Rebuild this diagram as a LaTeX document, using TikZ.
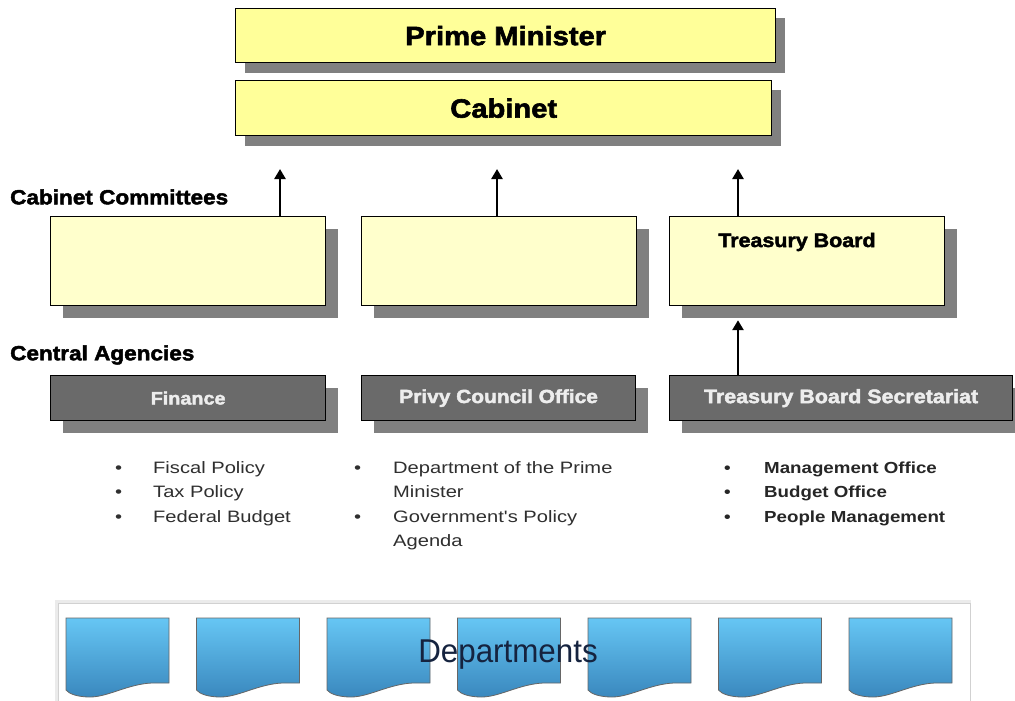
\documentclass[tikz,border=0pt]{standalone}
\usepackage{fontspec}
\setmainfont{Liberation Sans}
\newfontfamily\heavy{Liberation Sans}[FakeStretch=1.1, FakeBold=2.2, BoldFeatures={FakeBold=2.2}]
\newfontfamily\bodyfont{Liberation Sans}[FakeStretch=1.22]
\newfontfamily\semibody{Liberation Sans}[FakeStretch=1.17]
\newfontfamily\depfont{Liberation Sans}[FakeStretch=0.95]
\usetikzlibrary{arrows.meta,calc}
\definecolor{pmyellow}{HTML}{FFFF99}
\definecolor{ccyellow}{HTML}{FFFFCC}
\definecolor{shadowgray}{HTML}{808080}
\definecolor{agencygray}{HTML}{6A6A6A}
\definecolor{agencytext}{HTML}{EDEDED}
\definecolor{bullettext}{HTML}{2F2F2F}
\definecolor{dbluetop}{HTML}{66C6F4}
\definecolor{dbluebot}{HTML}{3A88BE}
\definecolor{deptext}{HTML}{15233F}
\tikzset{
  topbox/.style={draw=black, line width=1.4pt, fill=pmyellow, inner sep=0pt, anchor=north west,
    font=\heavy\bfseries\fontsize{26.5}{30}\selectfont},
  ccbox/.style={draw=black, line width=1.2pt, fill=ccyellow, inner sep=0pt, anchor=north west,
    minimum width=275pt, minimum height=89pt},
  agbox/.style={draw=black, line width=1.2pt, fill=agencygray, inner sep=0pt, anchor=north west,
    minimum height=45pt, text=agencytext},
  agfont/.style={font=\heavy\bfseries\fontsize{#1}{22}\selectfont},
  shadowbox/.style={fill=shadowgray, draw=none},
  header/.style={anchor=west, inner sep=0pt, font=\heavy\bfseries\fontsize{20.5}{23}\selectfont},
  uparrow/.style={line width=2.6pt, -{Triangle[length=10pt,width=11pt]}},
  bulletlist/.style={anchor=north west, inner sep=0pt, align=left, text=bullettext},
  docshape/.style={top color=dbluetop, bottom color=dbluebot, draw=black!60, line width=0.8pt}
}
\begin{document}
\begin{tikzpicture}[x=1pt,y=-1pt]
\useasboundingbox (0,0) rectangle (1015,701);
\fill[white] (0,0) rectangle (1015,701);

% shadows of top boxes
\fill[shadowbox] (245,18) rectangle (785,73);
\fill[shadowbox] (245,90) rectangle (781,146);
% Prime Minister and Cabinet
\node[topbox, minimum width=540pt, minimum height=54pt] (pm) at (235,8) {Prime Minister};
\node[topbox, minimum width=536pt, minimum height=55pt] (cab) at (235,80) {Cabinet};

% headers
\node[header] (cchead) at (10,197) {Cabinet Committees};
\node[header] (cahead) at (10,355) {Central Agencies};

% committee shadows
\foreach \x in {50,361,669} {
  \fill[shadowbox] (\x+13,229) rectangle (\x+288,318);
}
\node[ccbox] (cc1) at (50,216) {};
\node[ccbox] (cc2) at (361,216) {};
\node[ccbox] (tb) at (669,216) {};
\node[anchor=center, inner sep=0pt, font=\heavy\bfseries\fontsize{19.5}{22}\selectfont] (tbtext) at (797,242) {Treasury Board};

% arrows from committees
\coordinate (a1) at ($(cc1.north west)+(230,-47)$);
\coordinate (a2) at ($(cc2.north west)+(136,-47)$);
\coordinate (a3) at ($(tb.north west)+(69,-47)$);
\draw[uparrow] ($(cc1.north west)+(230,0)$) -- (a1);
\draw[uparrow] ($(cc2.north west)+(136,0)$) -- (a2);
\draw[uparrow] ($(tb.north west)+(69,0)$) -- (a3);

% agency shadows
\fill[shadowbox] (63,388) rectangle (338,433);
\fill[shadowbox] (374,388) rectangle (648,433);
\fill[shadowbox] (682,388) rectangle (1015,433);
\node[agbox, agfont=18, minimum width=275pt] (fin) at (50,375) {Finance};
\node[agbox, agfont=19, minimum width=274pt] (pco) at (361,375) {Privy Council Office};
\node[agbox, agfont=19.5, minimum width=343pt] (tbs) at (669,375) {Treasury Board Secretariat};

% TBS -> TB
\draw[uparrow] ($(tbs.north west)+(69,0)$) -- ($(tb.south west)+(69,14)$);

% bullet lists
\node[bulletlist, font=\bodyfont\fontsize{16.5}{24.5}\selectfont] (finlist) at (115,456) {%
  \begin{tabular}{@{}p{38pt}@{}l@{}}
  \textbullet & Fiscal Policy\\
  \textbullet & Tax Policy\\
  \textbullet & Federal Budget
  \end{tabular}};
\node[bulletlist, font=\bodyfont\fontsize{16.5}{24.5}\selectfont] (pcolist) at (354,456) {%
  \begin{tabular}{@{}p{39pt}@{}l@{}}
  \textbullet & Department of the Prime\\
   & Minister\\
  \textbullet & Government's Policy\\
   & Agenda
  \end{tabular}};
\node[bulletlist, font=\semibody\bfseries\fontsize{16}{24.5}\selectfont, text=black!85] (tbslist) at (724,456) {%
  \begin{tabular}{@{}p{40pt}@{}l@{}}
  \textbullet & Management Office\\
  \textbullet & Budget Office\\
  \textbullet & People Management
  \end{tabular}};

% Departments
\fill[black!8] (55,600) rectangle (971,701);
\node[draw=black!18, fill=white, line width=0.8pt, anchor=north west, inner sep=0pt,
  minimum width=912pt, minimum height=99pt] (deptbox) at (58,603) {};
\foreach \i in {0,...,6} {
  \pgfmathsetmacro{\xo}{66+130.5*\i}
  \shadedraw[docshape] (\xo,618) -- (\xo+103,618) -- (\xo+103,683) -- (\xo+86,683)
    .. controls (\xo+62,684) and (\xo+42,697) .. (\xo+24,697)
    .. controls (\xo+12,697) and (\xo+3,694) .. (\xo,690) -- cycle;
}
\node[inner sep=0pt, text=deptext, font=\depfont\fontsize{33}{36}\selectfont] (dept) at (508,655) {Departments};
\end{tikzpicture}
\end{document}
